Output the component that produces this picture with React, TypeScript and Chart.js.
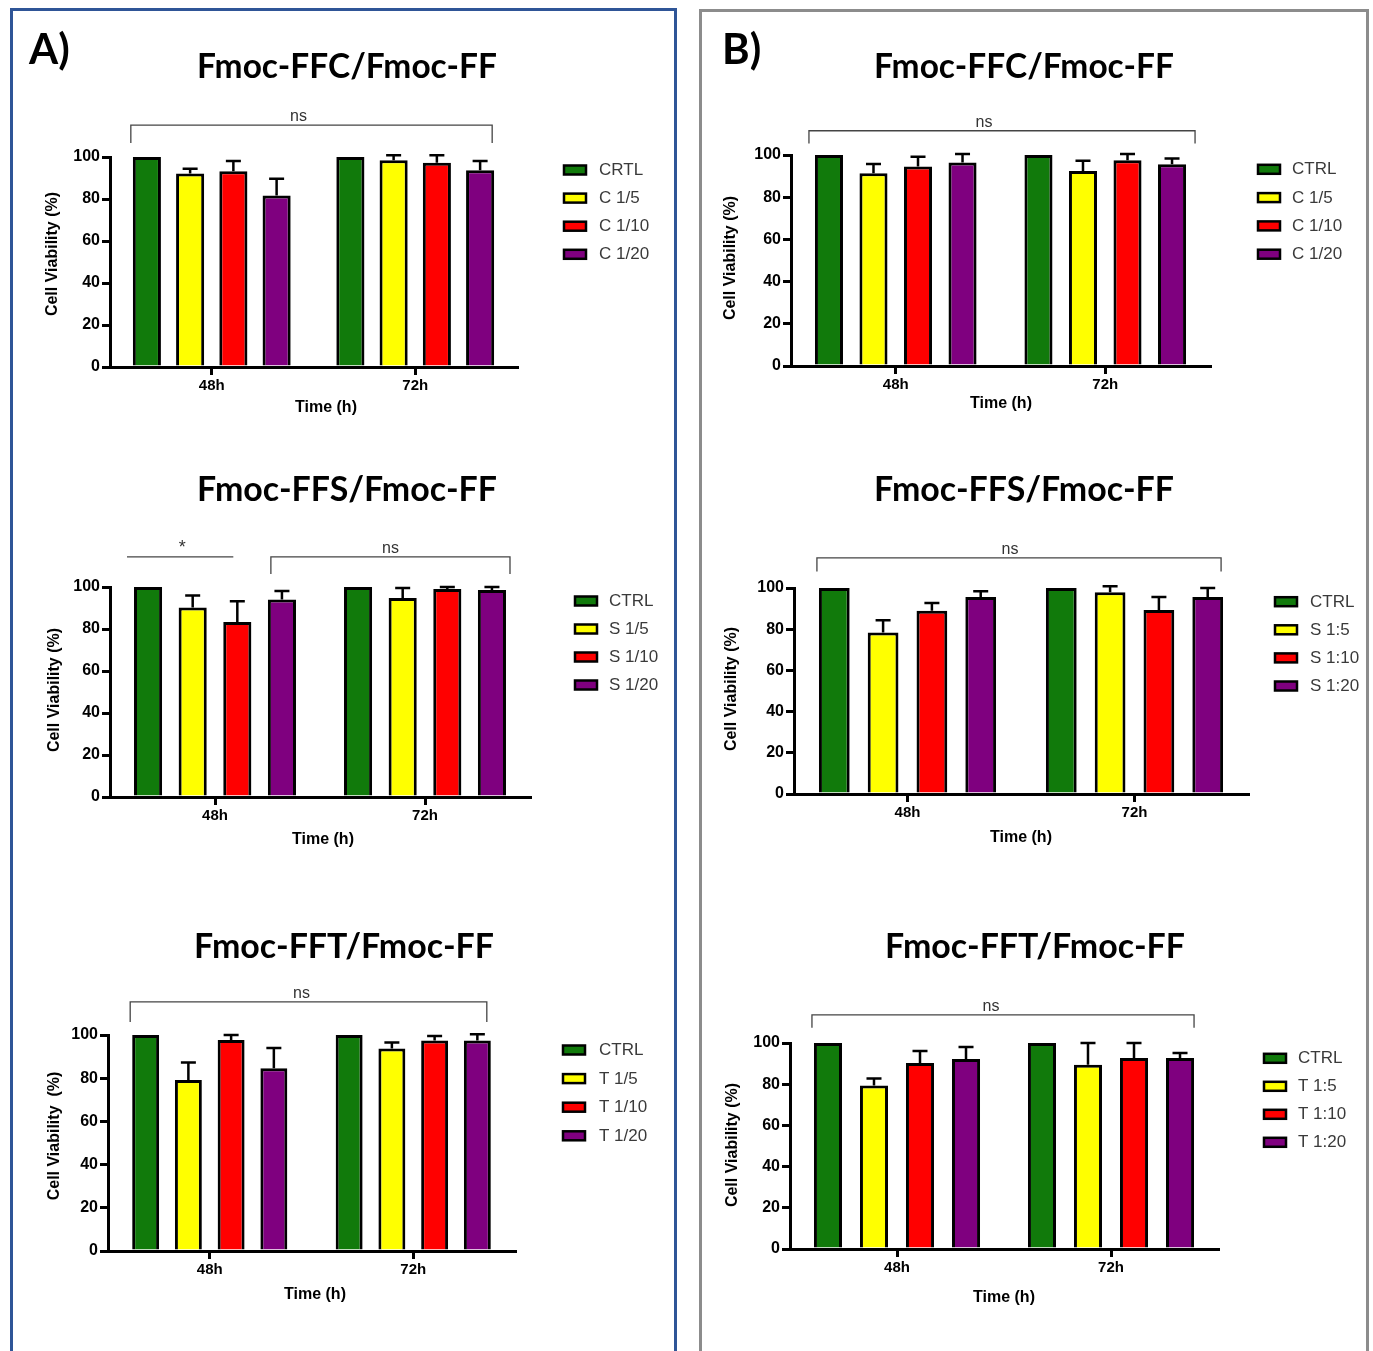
import React, { useEffect, useRef } from 'react';
import { Chart, registerables } from 'chart.js';

Chart.register(...registerables);

// ---------------- data ----------------
const TIME_POINTS = ['48h', '72h'];
const Y_TICK_VALUES = [0, 20, 40, 60, 80, 100];
const BAR_COLORS = ['#117a0b', '#ffff00', '#ff0000', '#7f007f'];

const A1_TITLE = 'Fmoc-FFC/Fmoc-FF';
const A1_SERIES = ['CRTL', 'C 1/5', 'C 1/10', 'C 1/20'];
const A1_MEANS = [[100, 100], [92.1, 98.4], [93.2, 97.3], [81.7, 93.7]];
const A1_ERRORS = [[0, 0], [2.3, 2.4], [4.9, 3.5], [8.0, 4.4]];

const A2_TITLE = 'Fmoc-FFS/Fmoc-FF';
const A2_SERIES = ['CTRL', 'S 1/5', 'S 1/10', 'S 1/20'];
const A2_MEANS = [[100, 100], [90.2, 94.8], [83.3, 99.0], [94.0, 98.6]];
const A2_ERRORS = [[0, 0], [5.8, 4.7], [9.9, 1.0], [4.1, 1.4]];

const A3_TITLE = 'Fmoc-FFT/Fmoc-FF';
const A3_SERIES = ['CTRL', 'T 1/5', 'T 1/10', 'T 1/20'];
const A3_MEANS = [[100, 100], [79.2, 93.8], [97.7, 97.4], [84.6, 97.4]];
const A3_ERRORS = [[0, 0], [8.1, 2.7], [2.3, 2.1], [9.4, 2.9]];

const B1_TITLE = 'Fmoc-FFC/Fmoc-FF';
const B1_SERIES = ['CTRL', 'C 1/5', 'C 1/10', 'C 1/20'];
const B1_MEANS = [[100, 100], [91.3, 92.4], [94.5, 97.5], [96.5, 95.6]];
const B1_ERRORS = [[0, 0], [4.4, 4.9], [4.7, 3.0], [4.0, 2.7]];

const B2_TITLE = 'Fmoc-FFS/Fmoc-FF';
const B2_SERIES = ['CTRL', 'S 1:5', 'S 1:10', 'S 1:20'];
const B2_MEANS = [[100, 100], [78.4, 97.9], [89.0, 89.3], [95.6, 95.6]];
const B2_ERRORS = [[0, 0], [5.9, 2.9], [3.7, 6.3], [2.8, 4.4]];

const B3_TITLE = 'Fmoc-FFT/Fmoc-FF';
const B3_SERIES = ['CTRL', 'T 1:5', 'T 1:10', 'T 1:20'];
const B3_MEANS = [[100, 100], [79.4, 89.5], [90.3, 92.7], [92.2, 92.7]];
const B3_ERRORS = [[0, 0], [3.4, 10.5], [5.8, 7.3], [5.9, 2.4]];

const Y_TITLE = 'Cell Viability (%)';
const Y_TITLE_WIDE = 'Cell Viability  (%)';
const X_TITLE = 'Time (h)';

// significance annotations (values on the y scale, bars by [category, dataset, edge, dx])
const A1_SIG = [{ text: 'ns', y: 115.2, leg: 106.7, from: [0, 0, 'left', -2], to: [1, 3, 'right', -2], dx: -13 }];
const A2_SIG = [
  { text: '*', y: 114.3, leg: null, from: [0, 0, 'left', -7], to: [0, 2, 'center', -4], dx: 2 },
  { text: 'ns', y: 114.3, leg: 106.2, from: [0, 3, 'left', 3], to: [1, 3, 'right', 4], dx: 0 },
];
const A3_SIG = [{ text: 'ns', y: 115.3, leg: 106, from: [0, 0, 'left', -2], to: [1, 3, 'right', -4], dx: -7 }];
const B1_SIG = [{ text: 'ns', y: 111.5, leg: 105.5, from: [0, 0, 'left', -6], to: [1, 3, 'right', 9], dx: -18 }];
const B2_SIG = [{ text: 'ns', y: 114.6, leg: 108, from: [0, 0, 'left', -2], to: [1, 3, 'right', -2], dx: -9 }];
const B3_SIG = [{ text: 'ns', y: 113.7, leg: 107.4, from: [0, 0, 'left', -2], to: [1, 3, 'right', 0], dx: -12 }];

// ---------------- layout ----------------
const Y_AXIS_W = 70;
const X_AXIS_H = 40;
const SANS = '"Liberation Sans", Arial, sans-serif';
const TITLE_FONT = 'Lato, "Open Sans", sans-serif';

const SPECS = [
  {
    key: 'A1', panel: 'A)', panelPos: [29, 64], title: A1_TITLE, series: A1_SERIES, means: A1_MEANS, errors: A1_ERRORS, sig: A1_SIG, yTitle: Y_TITLE,
    box: [14, 20, 658, 420], area: [110, 157, 517, 367], titlePos: [347, 78], yTitlePos: [52.5, 254], xTitlePos: [326, 408],
    legend: { x: 564, y: 170, dy: 28.1, tx: 599 }, cat: 0.85, bar: 0.65,
  },
  {
    key: 'A2', panel: null, panelPos: null, title: A2_TITLE, series: A2_SERIES, means: A2_MEANS, errors: A2_ERRORS, sig: A2_SIG, yTitle: Y_TITLE,
    box: [14, 440, 658, 440], area: [110, 587, 530, 797], titlePos: [347, 501], yTitlePos: [54.5, 690], xTitlePos: [323, 840],
    legend: { x: 575, y: 601, dy: 28, tx: 609 }, cat: 0.85, bar: 0.63,
  },
  {
    key: 'A3', panel: null, panelPos: null, title: A3_TITLE, series: A3_SERIES, means: A3_MEANS, errors: A3_ERRORS, sig: A3_SIG, yTitle: Y_TITLE_WIDE,
    box: [14, 900, 658, 440], area: [108, 1035, 515, 1251], titlePos: [344, 958], yTitlePos: [55, 1136], xTitlePos: [315, 1295],
    legend: { x: 563, y: 1050, dy: 28.6, tx: 599 }, cat: 0.84, bar: 0.63,
  },
  {
    key: 'B1', panel: 'B)', panelPos: [722, 64], title: B1_TITLE, series: B1_SERIES, means: B1_MEANS, errors: B1_ERRORS, sig: B1_SIG, yTitle: Y_TITLE,
    box: [704, 20, 660, 420], area: [791, 155, 1210, 366], titlePos: [1024, 78], yTitlePos: [731, 258], xTitlePos: [1001, 404],
    legend: { x: 1258, y: 169.3, dy: 28.3, tx: 1292 }, cat: 0.85, bar: 0.63,
  },
  {
    key: 'B2', panel: null, panelPos: null, title: B2_TITLE, series: B2_SERIES, means: B2_MEANS, errors: B2_ERRORS, sig: B2_SIG, yTitle: Y_TITLE,
    box: [704, 440, 660, 440], area: [794, 588, 1248, 794], titlePos: [1024, 501], yTitlePos: [732, 689], xTitlePos: [1021, 838],
    legend: { x: 1275, y: 601.7, dy: 28.1, tx: 1310 }, cat: 0.86, bar: 0.63,
  },
  {
    key: 'B3', panel: null, panelPos: null, title: B3_TITLE, series: B3_SERIES, means: B3_MEANS, errors: B3_ERRORS, sig: B3_SIG, yTitle: Y_TITLE,
    box: [704, 900, 660, 440], area: [790, 1043, 1218, 1249], titlePos: [1035, 958], yTitlePos: [732.5, 1145], xTitlePos: [1004, 1298],
    legend: { x: 1264, y: 1058.3, dy: 28, tx: 1298 }, cat: 0.86, bar: 0.61,
  },
];

function makeDecorPlugin(spec: any) {
  const ox = spec.box[0];
  const oy = spec.box[1];
  return {
    id: 'decor_' + spec.key,
    afterDatasetsDraw(chart: any) {
      const ctx = chart.ctx;
      const ys = chart.scales.y;
      chart.data.datasets.forEach((ds: any, di: number) => {
        const meta = chart.getDatasetMeta(di);
        meta.data.forEach((el: any, j: number) => {
          const err = ds.errors[j];
          if (!err) return;
          const v = ds.data[j];
          const yTop = ys.getPixelForValue(v);
          const yErr = ys.getPixelForValue(v + err);
          ctx.save();
          ctx.strokeStyle = '#000';
          ctx.lineWidth = 2.5;
          ctx.beginPath();
          ctx.moveTo(el.x, yTop);
          ctx.lineTo(el.x, yErr);
          ctx.moveTo(el.x - 7.5, yErr);
          ctx.lineTo(el.x + 7.5, yErr);
          ctx.stroke();
          ctx.restore();
        });
      });
    },
    afterDraw(chart: any) {
      const ctx = chart.ctx;
      const ys = chart.scales.y;
      ctx.save();
      // title fitted to ~300px
      ctx.fillStyle = '#000';
      ctx.font = `bold 100px ${TITLE_FONT}`;
      const w100 = ctx.measureText(spec.title).width;
      const tSize = (100 * 300) / w100;
      ctx.font = `bold ${tSize}px ${TITLE_FONT}`;
      ctx.textAlign = 'center';
      ctx.textBaseline = 'alphabetic';
      ctx.fillText(spec.title, spec.titlePos[0] - ox, spec.titlePos[1] - oy);

      if (spec.panel) {
        ctx.font = `bold 42px ${TITLE_FONT}`;
        ctx.textAlign = 'left';
        ctx.fillText(spec.panel, spec.panelPos[0] - ox, spec.panelPos[1] - oy);
      }

      // axis titles
      ctx.font = `bold 16px ${SANS}`;
      ctx.textAlign = 'center';
      ctx.textBaseline = 'middle';
      ctx.fillText(X_TITLE, spec.xTitlePos[0] - ox, spec.xTitlePos[1] - oy);
      ctx.save();
      ctx.translate(spec.yTitlePos[0] - ox, spec.yTitlePos[1] - oy);
      ctx.rotate(-Math.PI / 2);
      ctx.font = `bold 16px ${SANS}`;
      ctx.fillText(spec.yTitle, 0, 0);
      ctx.restore();

      // legend
      const lg = spec.legend;
      chart.data.datasets.forEach((ds: any, i: number) => {
        const cy = lg.y + i * lg.dy - oy;
        ctx.fillStyle = ds.backgroundColor;
        ctx.fillRect(lg.x - ox, cy - 4.5, 22, 9);
        ctx.strokeStyle = '#000';
        ctx.lineWidth = 2.5;
        ctx.strokeRect(lg.x - ox, cy - 4.5, 22, 9);
        ctx.fillStyle = '#3a3a3a';
        ctx.font = `17px ${SANS}`;
        ctx.textAlign = 'left';
        ctx.textBaseline = 'middle';
        ctx.fillText(ds.label, lg.tx - ox, cy + 0.5);
      });

      // significance brackets
      const edgeX = (ref: any[]) => {
        const [ci, di, edge, dx] = ref;
        const el = chart.getDatasetMeta(di).data[ci];
        let x = el.x;
        if (edge === 'left') x = el.x - el.width / 2;
        if (edge === 'right') x = el.x + el.width / 2;
        return x + dx;
      };
      spec.sig.forEach((s: any) => {
        const x1 = edgeX(s.from);
        const x2 = edgeX(s.to);
        const yl = ys.getPixelForValue(s.y);
        ctx.strokeStyle = '#444';
        ctx.lineWidth = 1.3;
        ctx.beginPath();
        if (s.leg != null) {
          const yb = ys.getPixelForValue(s.leg);
          ctx.moveTo(x1, yb);
          ctx.lineTo(x1, yl);
          ctx.lineTo(x2, yl);
          ctx.lineTo(x2, yb);
        } else {
          ctx.moveTo(x1, yl);
          ctx.lineTo(x2, yl);
        }
        ctx.stroke();
        ctx.fillStyle = '#333';
        ctx.font = s.text === '*' ? `18px ${SANS}` : `16px ${SANS}`;
        ctx.textAlign = 'center';
        ctx.textBaseline = 'alphabetic';
        ctx.fillText(s.text, (x1 + x2) / 2 + s.dx, yl - 4);
      });
      ctx.restore();
    },
  };
}

function buildConfig(spec: any): any {
  const [bx, by, bw, bh] = spec.box;
  const [L, T, R, B] = spec.area;
  const datasets = spec.series.map((label: string, i: number) => ({
    label,
    data: spec.means[i],
    errors: spec.errors[i],
    backgroundColor: BAR_COLORS[i],
    borderColor: '#000',
    borderWidth: 3,
    categoryPercentage: spec.cat,
    barPercentage: spec.bar,
  }));
  return {
    type: 'bar',
    data: { labels: TIME_POINTS, datasets },
    options: {
      responsive: false,
      animation: false,
      devicePixelRatio: 1,
      layout: {
        padding: { left: L - bx - Y_AXIS_W, top: T - by, right: bx + bw - R, bottom: by + bh - B - X_AXIS_H },
      },
      plugins: { legend: { display: false }, title: { display: false }, tooltip: { enabled: false } },
      scales: {
        x: {
          type: 'category',
          offset: true,
          grid: { display: true, drawOnChartArea: false, drawTicks: true, tickLength: 8, lineWidth: 3, color: '#000', offset: false },
          border: { display: true, color: '#000', width: 3 },
          ticks: { font: { family: SANS, size: 15, weight: 'bold' }, color: '#000', padding: 2, maxRotation: 0 },
          afterFit: (s: any) => { s.height = X_AXIS_H; },
        },
        y: {
          type: 'linear',
          min: 0,
          max: 100,
          afterBuildTicks: (s: any) => { s.ticks = Y_TICK_VALUES.map((v) => ({ value: v })); },
          grid: { display: true, drawOnChartArea: false, drawTicks: true, tickLength: 8, lineWidth: 3, color: '#000' },
          border: { display: true, color: '#000', width: 3 },
          ticks: { font: { family: SANS, size: 16, weight: 'bold' }, color: '#000', padding: 2 },
          afterFit: (s: any) => { s.width = Y_AXIS_W; },
        },
      },
    },
    plugins: [makeDecorPlugin(spec)],
  };
}

function ChartPanel({ spec }: { spec: any }) {
  const ref = useRef<HTMLCanvasElement>(null);
  useEffect(() => {
    if (!ref.current) return;
    const chart = new Chart(ref.current, buildConfig(spec));
    return () => chart.destroy();
  }, [spec]);
  const [x, y, w, h] = spec.box;
  return (
    <canvas
      ref={ref}
      width={w}
      height={h}
      style={{ position: 'absolute', left: x, top: y, width: w, height: h }}
    />
  );
}

export default function App() {
  return (
    <div style={{ position: 'absolute', left: 0, top: 0, width: 1373, height: 1351, overflow: 'hidden', background: '#fff' }}>
      <div style={{ position: 'absolute', left: 10, top: 8, width: 667, height: 1400, border: '3px solid #2f5597', boxSizing: 'border-box' }} />
      <div style={{ position: 'absolute', left: 699, top: 9, width: 670, height: 1400, border: '3px solid #8c8c8c', boxSizing: 'border-box' }} />
      {SPECS.map((s) => (
        <ChartPanel key={s.key} spec={s} />
      ))}
    </div>
  );
}
